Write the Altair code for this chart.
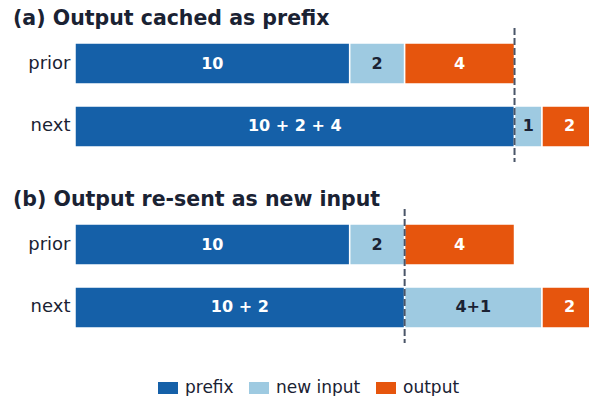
import altair as alt
import pandas as pd

rows = ["prior", "next"]
segments = ["prefix", "new input", "output"]
seg_colors = ["#1560a8", "#9ecae1", "#e6550d"]

# Panel (a): output cached as prefix
a_title = "(a) Output cached as prefix"
a_prefix = [10, 16]
a_new = [2, 1]
a_out = [4, 2]
a_prefix_lbl = ["10", "10 + 2 + 4"]
a_new_lbl = ["2", "1"]
a_out_lbl = ["4", "2"]
a_boundary = 16

# Panel (b): output re-sent as new input
b_title = "(b) Output re-sent as new input"
b_prefix = [10, 12]
b_new = [2, 5]
b_out = [4, 2]
b_prefix_lbl = ["10", "10 + 2"]
b_new_lbl = ["2", "4+1"]
b_out_lbl = ["4", "2"]
b_boundary = 12

PX_PER_UNIT = 27.47
PLOT_W = 514
X_MAX = PLOT_W / PX_PER_UNIT
PLOT_H = 134
TEXT_DARK = "#1a2233"


def build(prefix, new, out, pl, nl, ol):
    recs = []
    for i, r in enumerate(rows):
        start = 0
        for seg, vals, lbls in zip(segments, [prefix, new, out], [pl, nl, ol]):
            v = vals[i]
            recs.append({"row": r, "segment": seg, "start": start,
                         "end": start + v, "mid": start + v / 2,
                         "label": lbls[i]})
            start += v
    return pd.DataFrame(recs)


def panel(title, prefix, new, out, pl, nl, ol, boundary):
    df = build(prefix, new, out, pl, nl, ol)
    xs = alt.Scale(domain=[0, X_MAX], nice=False, zero=True)
    ys = alt.Scale(domain=rows, paddingInner=0.349, paddingOuter=0.238)
    base = alt.Chart(df)
    bars = base.mark_bar(stroke="white", strokeWidth=1.5, clip=True).encode(
        x=alt.X("start:Q", scale=xs, axis=None),
        x2="end:Q",
        y=alt.Y("row:N", scale=ys, sort=rows,
                axis=alt.Axis(title=None, domain=False, ticks=False,
                              labelFontSize=18, labelColor=TEXT_DARK,
                              labelFont="DejaVu Sans", labelPadding=5)),
        color=alt.Color("segment:N",
                        scale=alt.Scale(domain=segments, range=seg_colors),
                        legend=alt.Legend(title=None, orient="none",
                                          legendX=83, legendY=350,
                                          direction="horizontal",
                                          labelFontSize=17,
                                          labelFont="DejaVu Sans",
                                          labelColor=TEXT_DARK,
                                          labelOffset=7,
                                          symbolType="M-1,-0.6L1,-0.6L1,0.6L-1,0.6Z",
                                          symbolSize=400,
                                          symbolStrokeWidth=0,
                                          symbolOpacity=1,
                                          columnPadding=15)),
    )
    texts = base.mark_text(fontSize=16, fontWeight="bold",
                           font="DejaVu Sans", baseline="middle").encode(
        x=alt.X("mid:Q", scale=xs),
        y=alt.Y("row:N", scale=ys, sort=rows),
        text="label:N",
        color=alt.condition(alt.datum.segment == "new input",
                            alt.value(TEXT_DARK), alt.value("white")),
    )
    rule = alt.Chart(pd.DataFrame({"b": [boundary]})).mark_rule(
        color="#4a5568", strokeWidth=2, strokeDash=[7, 3]).encode(
        x=alt.X("b:Q", scale=xs),
        y=alt.value(0), y2=alt.value(PLOT_H),
    )
    return alt.layer(bars, texts, rule).properties(
        width=PLOT_W, height=PLOT_H,
        title=alt.TitleParams(title, anchor="start", frame="group", dx=-62,
                              dy=-3, fontSize=20.5, fontWeight="bold",
                              font="DejaVu Sans", color=TEXT_DARK, offset=-5),
    )


pa = panel(a_title, a_prefix, a_new, a_out, a_prefix_lbl, a_new_lbl, a_out_lbl, a_boundary)
pb = panel(b_title, b_prefix, b_new, b_out, b_prefix_lbl, b_new_lbl, b_out_lbl, b_boundary)

chart = alt.vconcat(pa, pb, spacing=26).properties(
    padding={"left": 5, "top": 0, "right": 0, "bottom": 0}
).configure_view(stroke=None)

chart.save("out.html", embed_options={"renderer": "svg", "actions": False})
